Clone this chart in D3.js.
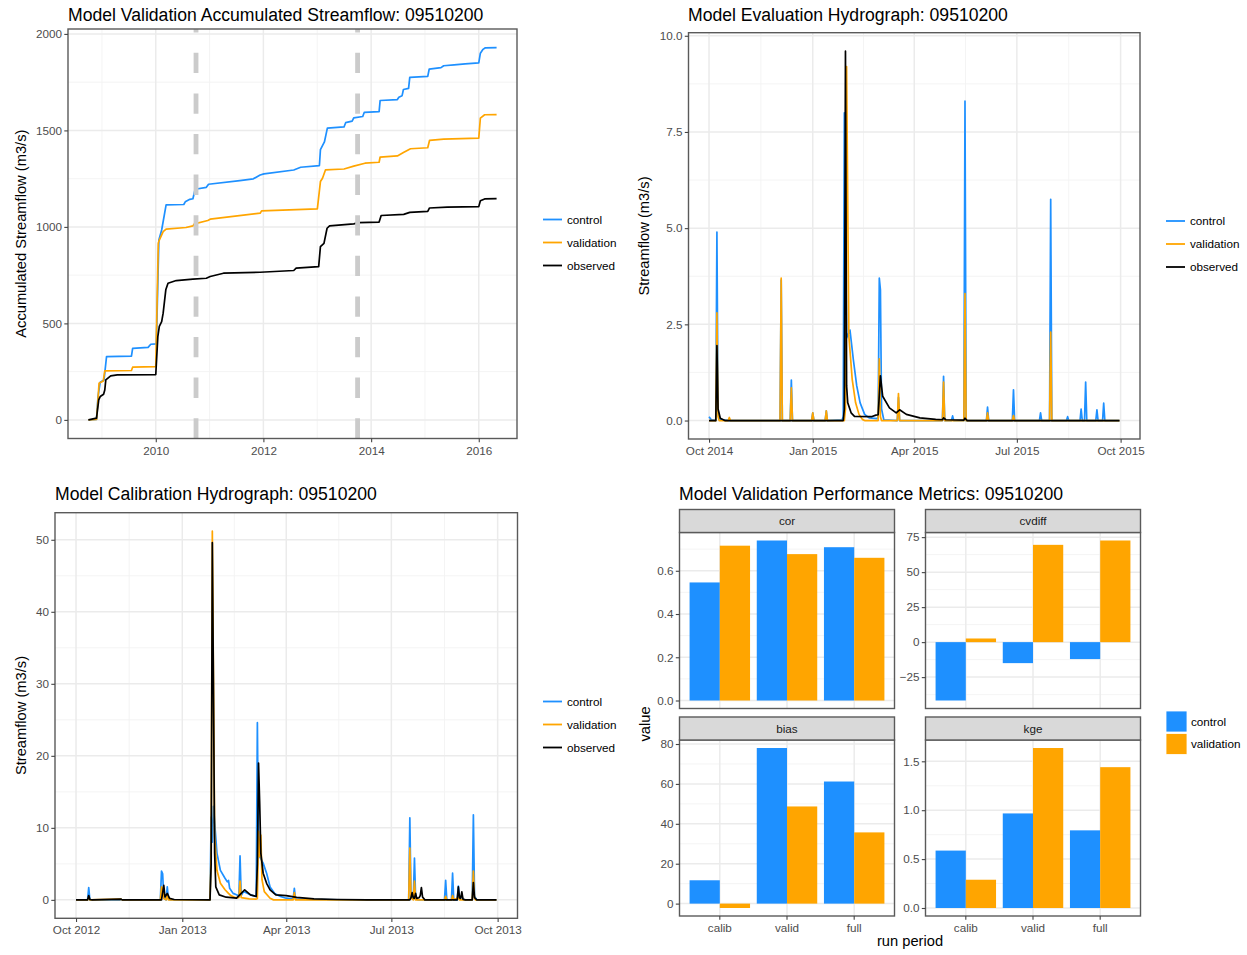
<!DOCTYPE html>
<html>
<head>
<meta charset="utf-8">
<title>Streamflow model validation 09510200</title>
<script src="https://cdn.jsdelivr.net/npm/d3@7/dist/d3.min.js"></script>
<style>
  body { margin: 0; background: #ffffff; }
  text { font-family: "Liberation Sans", Arial, Helvetica, sans-serif; }
</style>
</head>
<body>
<svg id="chart" width="1247" height="955"></svg>
<script>
// series shared by the three line panels
const seriesNames = ["control", "validation", "observed"];
const seriesColors = ["#1e90ff", "#ffa500", "#000000"];

// accumulated streamflow, [date, m3/s]
const accumControl = [
  ["2008-10-01", 0], ["2008-11-25", 2], ["2008-12-05", 120], ["2008-12-20", 195], ["2009-01-15", 207],
  ["2009-02-01", 328], ["2009-07-20", 330], ["2009-07-28", 371], ["2009-11-10", 376], ["2009-11-28", 392],
  ["2010-01-05", 394], ["2010-01-22", 932], ["2010-02-10", 984], ["2010-03-12", 1114], ["2010-07-10", 1116],
  ["2010-07-20", 1130], ["2010-08-20", 1143], ["2010-09-10", 1146], ["2010-09-25", 1195], ["2010-12-10", 1205],
  ["2010-12-25", 1221], ["2011-07-25", 1240], ["2011-10-25", 1249], ["2011-12-10", 1269], ["2012-01-05", 1275],
  ["2012-07-25", 1295], ["2012-09-10", 1309], ["2013-01-15", 1318], ["2013-01-22", 1400], ["2013-02-18", 1440],
  ["2013-03-10", 1512], ["2013-07-01", 1518], ["2013-07-12", 1540], ["2013-08-25", 1548], ["2013-09-05", 1565],
  ["2013-11-05", 1572], ["2013-11-15", 1593], ["2014-02-24", 1597], ["2014-03-03", 1655], ["2014-06-28", 1660],
  ["2014-07-08", 1672], ["2014-07-30", 1680], ["2014-08-08", 1712], ["2014-09-12", 1718], ["2014-09-20", 1775],
  ["2015-01-20", 1780], ["2015-01-30", 1818], ["2015-04-20", 1825], ["2015-05-08", 1835], ["2015-07-18", 1840],
  ["2015-10-01", 1845], ["2016-01-01", 1850], ["2016-01-12", 1900], ["2016-01-30", 1920], ["2016-02-15", 1928],
  ["2016-05-01", 1929]
];
const accumValidation = [
  ["2008-10-01", 0], ["2008-11-25", 2], ["2008-12-05", 104], ["2008-12-12", 190], ["2009-01-10", 202],
  ["2009-01-20", 254], ["2009-07-20", 256], ["2009-07-28", 273], ["2010-01-01", 276], ["2010-01-18", 915],
  ["2010-01-25", 932], ["2010-02-20", 975], ["2010-03-12", 988], ["2010-07-25", 997], ["2010-09-10", 1005],
  ["2010-09-20", 1016], ["2010-12-20", 1033], ["2011-01-05", 1040], ["2011-12-10", 1071], ["2011-12-20", 1083],
  ["2013-01-01", 1093], ["2013-01-22", 1235], ["2013-02-05", 1252], ["2013-02-25", 1295], ["2013-07-01", 1300],
  ["2013-09-05", 1315], ["2013-11-20", 1330], ["2014-02-24", 1335], ["2014-03-03", 1362], ["2014-06-28", 1368],
  ["2014-08-08", 1385], ["2014-09-25", 1405], ["2015-01-20", 1410], ["2015-02-01", 1448], ["2015-05-08", 1455],
  ["2016-01-01", 1460], ["2016-01-12", 1564], ["2016-02-10", 1581], ["2016-05-01", 1582]
];
const accumObserved = [
  ["2008-10-01", 0], ["2008-11-25", 9], ["2008-12-10", 104], ["2008-12-20", 121], ["2009-01-12", 133],
  ["2009-01-20", 155], ["2009-01-27", 207], ["2009-03-01", 228], ["2009-04-15", 233], ["2010-01-01", 235],
  ["2010-01-15", 432], ["2010-01-25", 484], ["2010-02-10", 509], ["2010-02-20", 553], ["2010-03-10", 674],
  ["2010-03-25", 708], ["2010-05-20", 722], ["2010-09-10", 729], ["2010-12-10", 734], ["2011-01-05", 743],
  ["2011-04-05", 760], ["2011-12-10", 765], ["2012-07-25", 774], ["2012-08-10", 786], ["2013-01-10", 794],
  ["2013-01-22", 898], ["2013-02-15", 915], ["2013-03-08", 993], ["2013-03-25", 1005], ["2013-09-05", 1016],
  ["2013-10-10", 1022], ["2014-02-24", 1025], ["2014-03-10", 1059], ["2014-08-10", 1065], ["2014-09-20", 1075],
  ["2015-01-20", 1080], ["2015-02-01", 1098], ["2015-06-01", 1102], ["2016-01-01", 1105], ["2016-01-12", 1135],
  ["2016-02-10", 1145], ["2016-05-01", 1147]
];
const accumPeriodBreaks = ["2010-10-01", "2013-10-01"];
const accumXTicks = ["2010-01-01", "2012-01-01", "2014-01-01", "2016-01-01"];
const accumYTicks = [0, 500, 1000, 1500, 2000];

// evaluation hydrograph, water year 2015
const evalControl = [
  ["2014-10-01", 0.1], ["2014-10-03", 0.02], ["2014-10-07", 0], ["2014-10-08", 4.9], ["2014-10-09", 0.25],
  ["2014-10-10", 0.03], ["2014-10-20", 0], ["2014-12-03", 0], ["2014-12-04", 3.65], ["2014-12-05", 0],
  ["2014-12-12", 0], ["2014-12-13", 1.05], ["2014-12-14", 0], ["2014-12-31", 0], ["2015-01-01", 0.2],
  ["2015-01-02", 0], ["2015-01-12", 0], ["2015-01-13", 0.25], ["2015-01-14", 0], ["2015-01-27", 0.02],
  ["2015-01-28", 0.1], ["2015-01-29", 8.0], ["2015-01-31", 2.15], ["2015-02-03", 2.35], ["2015-02-06", 1.58],
  ["2015-02-09", 0.9], ["2015-02-12", 0.46], ["2015-02-16", 0.16], ["2015-02-20", 0.07], ["2015-02-27", 0.05],
  ["2015-02-28", 0.1], ["2015-03-01", 3.7], ["2015-03-02", 3.4], ["2015-03-03", 0.3], ["2015-03-05", 0.02],
  ["2015-03-17", 0], ["2015-03-18", 0.6], ["2015-03-19", 0], ["2015-04-26", 0], ["2015-04-27", 1.15],
  ["2015-04-28", 0], ["2015-05-04", 0], ["2015-05-05", 0.12], ["2015-05-06", 0], ["2015-05-15", 0],
  ["2015-05-16", 8.3], ["2015-05-17", 0], ["2015-06-04", 0], ["2015-06-05", 0.35], ["2015-06-06", 0],
  ["2015-06-27", 0], ["2015-06-28", 0.8], ["2015-06-29", 0], ["2015-07-21", 0], ["2015-07-22", 0.2],
  ["2015-07-23", 0], ["2015-07-30", 0], ["2015-07-31", 5.75], ["2015-08-01", 0], ["2015-08-14", 0],
  ["2015-08-15", 0.1], ["2015-08-16", 0], ["2015-08-26", 0], ["2015-08-27", 0.3], ["2015-08-28", 0],
  ["2015-08-30", 0], ["2015-08-31", 1.0], ["2015-09-01", 0], ["2015-09-09", 0], ["2015-09-10", 0.28],
  ["2015-09-11", 0], ["2015-09-15", 0], ["2015-09-16", 0.45], ["2015-09-17", 0], ["2015-09-30", 0]
];
const evalValidation = [
  ["2014-10-01", 0], ["2014-10-07", 0], ["2014-10-08", 2.8], ["2014-10-09", 0.1], ["2014-10-10", 0],
  ["2014-10-18", 0], ["2014-10-19", 0.08], ["2014-10-20", 0], ["2014-12-03", 0], ["2014-12-04", 3.7],
  ["2014-12-05", 0], ["2014-12-12", 0], ["2014-12-13", 0.85], ["2014-12-14", 0], ["2014-12-31", 0],
  ["2015-01-01", 0.2], ["2015-01-02", 0], ["2015-01-12", 0], ["2015-01-13", 0.25], ["2015-01-14", 0],
  ["2015-01-29", 0], ["2015-01-30", 0.3], ["2015-01-31", 9.2], ["2015-02-02", 2.2], ["2015-02-05", 1.06],
  ["2015-02-08", 0.46], ["2015-02-11", 0.16], ["2015-02-14", 0.03], ["2015-02-16", 0], ["2015-02-28", 0],
  ["2015-03-01", 1.6], ["2015-03-02", 0.1], ["2015-03-03", 0], ["2015-03-17", 0], ["2015-03-18", 0.7],
  ["2015-03-19", 0], ["2015-04-26", 0], ["2015-04-27", 1.0], ["2015-04-28", 0], ["2015-05-15", 0],
  ["2015-05-16", 3.3], ["2015-05-17", 0], ["2015-06-04", 0], ["2015-06-05", 0.2], ["2015-06-06", 0],
  ["2015-06-27", 0], ["2015-06-28", 0.13], ["2015-06-29", 0], ["2015-07-30", 0], ["2015-07-31", 2.3],
  ["2015-08-01", 0], ["2015-09-30", 0]
];
const evalObserved = [
  ["2014-10-01", 0], ["2014-10-07", 0], ["2014-10-08", 1.95], ["2014-10-09", 0.3], ["2014-10-11", 0.06],
  ["2014-10-15", 0], ["2015-01-28", 0], ["2015-01-29", 0.3], ["2015-01-30", 9.6], ["2015-01-31", 0.9],
  ["2015-02-01", 0.46], ["2015-02-04", 0.2], ["2015-02-07", 0.11], ["2015-02-22", 0.1], ["2015-02-26", 0.14],
  ["2015-02-28", 0.15], ["2015-03-02", 1.16], ["2015-03-04", 0.63], ["2015-03-10", 0.33], ["2015-03-16", 0.2],
  ["2015-03-19", 0.28], ["2015-03-25", 0.16], ["2015-04-06", 0.07], ["2015-04-20", 0.03], ["2015-04-26", 0.02],
  ["2015-04-27", 0.07], ["2015-04-29", 0.02], ["2015-05-15", 0.01], ["2015-05-16", 0.06], ["2015-05-18", 0],
  ["2015-09-30", 0]
];
const evalXTicks = ["2014-10-01", "2015-01-01", "2015-04-01", "2015-07-01", "2015-10-01"];
const evalYTicks = [0, 2.5, 5, 7.5, 10];

// calibration hydrograph, water year 2013
const calibControl = [
  ["2012-10-01", 0], ["2012-10-11", 0], ["2012-10-12", 1.7], ["2012-10-13", 0], ["2012-11-08", 0],
  ["2012-11-09", 0.1], ["2012-11-10", 0], ["2012-12-13", 0], ["2012-12-14", 4.0], ["2012-12-15", 3.6],
  ["2012-12-16", 0.3], ["2012-12-18", 0], ["2012-12-19", 1.8], ["2012-12-20", 0.1], ["2012-12-22", 0],
  ["2013-01-25", 0], ["2013-01-26", 11.5], ["2013-01-27", 8], ["2013-01-28", 13], ["2013-01-31", 6.5],
  ["2013-02-03", 4.1], ["2013-02-07", 3.0], ["2013-02-09", 2.5], ["2013-02-10", 2.7], ["2013-02-11", 1.6],
  ["2013-02-14", 0.9], ["2013-02-17", 0.7], ["2013-02-19", 0.6], ["2013-02-20", 6.1], ["2013-02-21", 0.6],
  ["2013-02-23", 1.15], ["2013-03-01", 0.7], ["2013-03-06", 0.46], ["2013-03-07", 24.6], ["2013-03-08", 6.5],
  ["2013-03-09", 6.0], ["2013-03-12", 5.1], ["2013-03-15", 3.7], ["2013-03-18", 1.8], ["2013-03-22", 0.9],
  ["2013-03-27", 0.46], ["2013-04-01", 0.23], ["2013-04-07", 0.1], ["2013-04-08", 1.6], ["2013-04-09", 0.1],
  ["2013-04-25", 0.05], ["2013-05-20", 0], ["2013-07-16", 0], ["2013-07-17", 11.4], ["2013-07-18", 0.5],
  ["2013-07-20", 0.3], ["2013-07-21", 5.8], ["2013-07-22", 0.2], ["2013-07-24", 0], ["2013-08-16", 0],
  ["2013-08-17", 2.7], ["2013-08-18", 0], ["2013-08-22", 0], ["2013-08-23", 3.7], ["2013-08-24", 0],
  ["2013-08-27", 0], ["2013-08-28", 1.9], ["2013-08-29", 0.2], ["2013-08-31", 0.6], ["2013-09-01", 0],
  ["2013-09-09", 0], ["2013-09-10", 11.8], ["2013-09-11", 0.5], ["2013-09-13", 0], ["2013-09-30", 0]
];
const calibValidation = [
  ["2012-10-01", 0], ["2012-10-11", 0], ["2012-10-12", 0.4], ["2012-10-13", 0], ["2012-11-09", 0.1],
  ["2012-11-10", 0], ["2012-12-13", 0], ["2012-12-14", 1.8], ["2012-12-15", 1.5], ["2012-12-16", 0.2],
  ["2012-12-18", 0], ["2012-12-19", 0.8], ["2012-12-20", 0], ["2013-01-25", 0], ["2013-01-26", 7],
  ["2013-01-27", 51.2], ["2013-01-28", 30], ["2013-01-29", 8.8], ["2013-01-31", 4.1], ["2013-02-03", 2.3],
  ["2013-02-07", 1.4], ["2013-02-10", 0.9], ["2013-02-12", 0.6], ["2013-02-16", 0.3], ["2013-02-19", 0.3],
  ["2013-02-20", 2.6], ["2013-02-21", 0.3], ["2013-02-28", 0.15], ["2013-03-06", 0.1], ["2013-03-07", 0.2],
  ["2013-03-08", 9.5], ["2013-03-09", 6], ["2013-03-10", 9], ["2013-03-11", 2.8], ["2013-03-13", 1.15],
  ["2013-03-18", 0.23], ["2013-03-21", 0], ["2013-04-07", 0], ["2013-04-08", 1.0], ["2013-04-09", 0],
  ["2013-07-16", 0], ["2013-07-17", 7.2], ["2013-07-18", 0.3], ["2013-07-20", 0], ["2013-07-21", 2.6],
  ["2013-07-22", 0], ["2013-08-16", 0], ["2013-08-17", 0.5], ["2013-08-18", 0], ["2013-08-22", 0],
  ["2013-08-23", 0.6], ["2013-08-24", 0], ["2013-08-28", 0.3], ["2013-08-29", 0], ["2013-09-09", 0],
  ["2013-09-10", 4.0], ["2013-09-11", 0.2], ["2013-09-12", 0], ["2013-09-30", 0]
];
const calibObserved = [
  ["2012-10-01", 0], ["2012-10-11", 0], ["2012-10-12", 0.6], ["2012-10-13", 0.05], ["2012-10-15", 0],
  ["2012-11-09", 0.1], ["2012-11-10", 0], ["2012-12-14", 0], ["2012-12-15", 1.0], ["2012-12-16", 2.0],
  ["2012-12-17", 0.4], ["2012-12-19", 0.9], ["2012-12-21", 0.2], ["2012-12-25", 0.05], ["2013-01-25", 0],
  ["2013-01-26", 5], ["2013-01-27", 49.6], ["2013-01-28", 29], ["2013-01-29", 6.5], ["2013-01-30", 1.8],
  ["2013-02-02", 0.7], ["2013-02-08", 0.37], ["2013-02-17", 0.23], ["2013-02-21", 0.9], ["2013-02-24", 1.4],
  ["2013-03-01", 0.7], ["2013-03-06", 0.46], ["2013-03-07", 5], ["2013-03-08", 19.0], ["2013-03-09", 13.4],
  ["2013-03-10", 6.5], ["2013-03-12", 3.7], ["2013-03-15", 2.3], ["2013-03-18", 1.4], ["2013-03-23", 0.7],
  ["2013-04-01", 0.6], ["2013-04-10", 0.35], ["2013-04-25", 0.15], ["2013-05-15", 0.05], ["2013-06-10", 0],
  ["2013-07-17", 0], ["2013-07-18", 0.3], ["2013-07-19", 1.0], ["2013-07-20", 0.3], ["2013-07-21", 0.2],
  ["2013-07-22", 0.9], ["2013-07-23", 0.2], ["2013-07-25", 0.3], ["2013-07-26", 0.6], ["2013-07-27", 1.7],
  ["2013-07-28", 0.4], ["2013-07-30", 0], ["2013-08-27", 0], ["2013-08-28", 1.8], ["2013-08-29", 0.3],
  ["2013-08-30", 0.2], ["2013-08-31", 1.1], ["2013-09-01", 0.1], ["2013-09-03", 0], ["2013-09-09", 0],
  ["2013-09-10", 2.4], ["2013-09-11", 0.3], ["2013-09-13", 0], ["2013-09-30", 0]
];
const calibXTicks = ["2012-10-01", "2013-01-01", "2013-04-01", "2013-07-01", "2013-10-01"];
const calibYTicks = [0, 10, 20, 30, 40, 50];

// performance metrics by run period
const runPeriods = ["calib", "valid", "full"];
const barSeries = ["control", "validation"];
const barColors = ["#1e90ff", "#ffa500"];
const corControl = [0.546, 0.740, 0.709];
const corValidation = [0.716, 0.677, 0.660];
const cvdiffControl = [-41.7, -15.0, -12.1];
const cvdiffValidation = [2.6, 69.5, 72.6];
const biasControl = [11.7, 78.0, 61.2];
const biasValidation = [-2.2, 48.7, 35.7];
const kgeControl = [0.587, 0.967, 0.794];
const kgeValidation = [0.289, 1.636, 1.44];
const corTicks = [0, 0.2, 0.4, 0.6];
const cvdiffTicks = [-25, 0, 25, 50, 75];
const biasTicks = [0, 20, 40, 60, 80];
const kgeTicks = [0, 0.5, 1, 1.5];

// ---- layout ----
const boxAccum = { left: 68, right: 517, top: 29, bottom: 438.5 };
const boxEval = { left: 688.5, right: 1140, top: 32.7, bottom: 439 };
const boxCalib = { left: 55, right: 517.5, top: 512.7, bottom: 918.3 };
const stripH = 23;
const facets = [
  { name: "cor", control: corControl, validation: corValidation, ticks: corTicks, fmt: d3.format(".1f"),
    box: { left: 679.5, right: 894.5, top: 532.5, bottom: 708.5 }, xAxis: false },
  { name: "cvdiff", control: cvdiffControl, validation: cvdiffValidation, ticks: cvdiffTicks, fmt: d3.format("d"),
    box: { left: 925.5, right: 1140.5, top: 532.5, bottom: 708.5 }, xAxis: false },
  { name: "bias", control: biasControl, validation: biasValidation, ticks: biasTicks, fmt: d3.format("d"),
    box: { left: 679.5, right: 894.5, top: 740, bottom: 916 }, xAxis: true },
  { name: "kge", control: kgeControl, validation: kgeValidation, ticks: kgeTicks, fmt: d3.format(".1f"),
    box: { left: 925.5, right: 1140.5, top: 740, bottom: 916 }, xAxis: true }
];

const svg = d3.select("#chart");
const parseDate = d3.timeParse("%Y-%m-%d");
const toPoints = arr => arr.map(d => ({ date: parseDate(d[0]), value: d[1] }));

// ggplot-like 5% expansion
function expand(lo, hi) {
  const s = hi - lo;
  return [lo - s * 0.05, hi + s * 0.05];
}

function minorBreaks(ticks, domain) {
  const t = ticks.map(Number), out = [];
  for (let i = 0; i < t.length - 1; i++) out.push((t[i] + t[i + 1]) / 2);
  out.push(t[0] - (t[1] - t[0]) / 2, t[t.length - 1] + (t[t.length - 1] - t[t.length - 2]) / 2);
  const lo = +domain[0], hi = +domain[1];
  return out.filter(v => v > lo && v < hi);
}

function drawGrid(box, xMajor, xMinor, yMajor, yMinor) {
  const g = svg.append("g");
  g.append("rect").attr("x", box.left).attr("y", box.top)
    .attr("width", box.right - box.left).attr("height", box.bottom - box.top).attr("fill", "#fff");
  const hl = (v, c, w) => g.append("line").attr("x1", box.left).attr("x2", box.right)
    .attr("y1", v).attr("y2", v).attr("stroke", c).attr("stroke-width", w);
  const vl = (v, c, w) => g.append("line").attr("y1", box.top).attr("y2", box.bottom)
    .attr("x1", v).attr("x2", v).attr("stroke", c).attr("stroke-width", w);
  yMinor.forEach(v => hl(v, "#f3f3f3", 0.9));
  xMinor.forEach(v => vl(v, "#f3f3f3", 0.9));
  yMajor.forEach(v => hl(v, "#ebebeb", 1.5));
  xMajor.forEach(v => vl(v, "#ebebeb", 1.5));
}

function drawBorder(box) {
  svg.append("rect").attr("x", box.left).attr("y", box.top)
    .attr("width", box.right - box.left).attr("height", box.bottom - box.top)
    .attr("fill", "none").attr("stroke", "#5a5a5a").attr("stroke-width", 1.4);
}

function styleAxis(g) {
  g.select(".domain").remove();
  g.selectAll(".tick line").attr("stroke", "#444").attr("stroke-width", 1.1);
  g.selectAll(".tick text").attr("fill", "#4d4d4d").style("font-size", "11.7px");
}

function yAxis(box, y, ticks, fmt) {
  svg.append("g").attr("transform", `translate(${box.left},0)`)
    .call(d3.axisLeft(y).tickValues(ticks).tickFormat(fmt).tickSize(3.7).tickPadding(2.2))
    .call(styleAxis);
}

function xAxis(box, x, ticks, fmt) {
  const ax = d3.axisBottom(x).tickSize(3.7).tickPadding(4);
  if (ticks) ax.tickValues(ticks);
  if (fmt) ax.tickFormat(fmt);
  svg.append("g").attr("transform", `translate(0,${box.bottom})`).call(ax).call(styleAxis);
}

function title(x, y, str) {
  svg.append("text").attr("x", x).attr("y", y).style("font-size", "17.6px").attr("fill", "#000").text(str);
}

function yTitle(x, y, str) {
  svg.append("text").attr("transform", `translate(${x},${y}) rotate(-90)`)
    .attr("text-anchor", "middle").style("font-size", "14.7px").attr("fill", "#000").text(str);
}

function lineLegend(x0, y0) {
  seriesNames.forEach((name, i) => {
    const yy = y0 + i * 23;
    svg.append("line").attr("x1", x0).attr("x2", x0 + 19).attr("y1", yy).attr("y2", yy)
      .attr("stroke", seriesColors[i]).attr("stroke-width", 1.8);
    svg.append("text").attr("x", x0 + 24).attr("y", yy).attr("dy", "0.35em")
      .style("font-size", "11.7px").attr("fill", "#000").text(name);
  });
}

function timePanel(box, seriesArrays, xTickStr, yTicks, xFmt, yFmt, extra) {
  const pts = seriesArrays.map(toPoints);
  const all = pts.flat();
  const xDom = expand(+d3.min(all, d => d.date), +d3.max(all, d => d.date)).map(t => new Date(t));
  const yDom = expand(Math.min(0, d3.min(all, d => d.value)), d3.max(all, d => d.value));
  const x = d3.scaleTime().domain(xDom).range([box.left, box.right]);
  const y = d3.scaleLinear().domain(yDom).range([box.bottom, box.top]);
  const xTicks = xTickStr.map(parseDate);

  drawGrid(box,
    xTicks.map(x), minorBreaks(xTicks, xDom).map(x),
    yTicks.map(y), minorBreaks(yTicks, yDom).map(y));

  const line = d3.line().x(d => x(d.date)).y(d => y(d.value));
  pts.forEach((p, i) => {
    svg.append("path").datum(p).attr("d", line).attr("fill", "none")
      .attr("stroke", seriesColors[i]).attr("stroke-width", 1.7).attr("stroke-linejoin", "round");
  });
  if (extra) extra(x, y);
  drawBorder(box);
  yAxis(box, y, yTicks, yFmt);
  xAxis(box, x, xTicks, xFmt);
}

// ---- top left: accumulated streamflow ----
timePanel(boxAccum, [accumControl, accumValidation, accumObserved], accumXTicks, accumYTicks,
  d3.timeFormat("%Y"), d3.format("d"), (x, y) => {
    accumPeriodBreaks.map(parseDate).forEach(d => {
      svg.append("line").attr("x1", x(d)).attr("x2", x(d))
        .attr("y1", boxAccum.bottom).attr("y2", boxAccum.top)
        .attr("stroke", "#cbcbcb").attr("stroke-width", 4.8).attr("stroke-dasharray", "20.3 20.3");
    });
  });
title(68, 20.5, "Model Validation Accumulated Streamflow: 09510200");
yTitle(25.5, 233.7, "Accumulated Streamflow (m3/s)");
lineLegend(543, 219.5);

// ---- top right: evaluation hydrograph ----
timePanel(boxEval, [evalControl, evalValidation, evalObserved], evalXTicks, evalYTicks,
  d3.timeFormat("%b %Y"), d3.format(".1f"));
title(688, 20.5, "Model Evaluation Hydrograph: 09510200");
yTitle(649, 236, "Streamflow (m3/s)");
lineLegend(1166, 221);

// ---- bottom left: calibration hydrograph ----
timePanel(boxCalib, [calibControl, calibValidation, calibObserved], calibXTicks, calibYTicks,
  d3.timeFormat("%b %Y"), d3.format("d"));
title(55, 500, "Model Calibration Hydrograph: 09510200");
yTitle(25.5, 715.5, "Streamflow (m3/s)");
lineLegend(543, 701.5);

// ---- bottom right: metrics facets ----
facets.forEach(f => {
  const box = f.box;
  const vals = f.control.concat(f.validation);
  const yDom = expand(Math.min(0, d3.min(vals)), Math.max(0, d3.max(vals)));
  const y = d3.scaleLinear().domain(yDom).range([box.bottom, box.top]);
  const x = d3.scaleBand().domain(runPeriods).range([box.left, box.right])
    .paddingInner(0.1).paddingOuter(0.15);
  const xs = d3.scaleBand().domain(barSeries).range([0, x.bandwidth()]);

  drawGrid(box, runPeriods.map(c => x(c) + x.bandwidth() / 2), [],
    f.ticks.map(y), minorBreaks(f.ticks, yDom).map(y));

  const rows = [];
  runPeriods.forEach((c, i) => {
    rows.push({ period: c, series: "control", value: f.control[i] });
    rows.push({ period: c, series: "validation", value: f.validation[i] });
  });
  svg.append("g").selectAll("rect").data(rows).join("rect")
    .attr("x", d => x(d.period) + xs(d.series))
    .attr("width", xs.bandwidth())
    .attr("y", d => Math.min(y(0), y(d.value)))
    .attr("height", d => Math.abs(y(d.value) - y(0)))
    .attr("fill", d => barColors[barSeries.indexOf(d.series)]);

  drawBorder(box);
  // strip
  svg.append("rect").attr("x", box.left).attr("y", box.top - stripH)
    .attr("width", box.right - box.left).attr("height", stripH)
    .attr("fill", "#d9d9d9").attr("stroke", "#5a5a5a").attr("stroke-width", 1.4);
  svg.append("text").attr("x", (box.left + box.right) / 2).attr("y", box.top - stripH / 2)
    .attr("dy", "0.35em").attr("text-anchor", "middle").style("font-size", "11.7px")
    .attr("fill", "#1a1a1a").text(f.name);

  yAxis(box, y, f.ticks, f.fmt);
  if (f.xAxis) xAxis(box, x);
});
title(679, 500, "Model Validation Performance Metrics: 09510200");
yTitle(649.5, 724, "value");
svg.append("text").attr("x", 910).attr("y", 946).attr("text-anchor", "middle")
  .style("font-size", "14.7px").attr("fill", "#000").text("run period");

// bar legend
barSeries.forEach((name, i) => {
  const yy = 711 + i * 22.5;
  svg.append("rect").attr("x", 1166).attr("y", yy).attr("width", 21).attr("height", 21)
    .attr("fill", barColors[i]).attr("stroke", "#fff").attr("stroke-width", 0.8);
  svg.append("text").attr("x", 1191).attr("y", yy + 10.5).attr("dy", "0.35em")
    .style("font-size", "11.7px").attr("fill", "#000").text(name);
});
</script>
</body>
</html>
